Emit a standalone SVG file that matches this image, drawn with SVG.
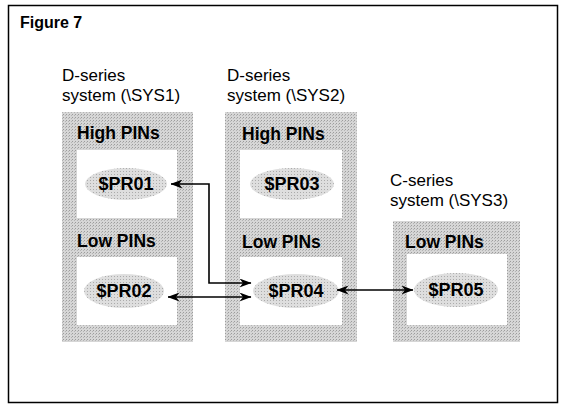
<svg xmlns="http://www.w3.org/2000/svg" width="563" height="404" viewBox="0 0 563 404">
  <defs>
    <pattern id="ht" width="3" height="3" patternUnits="userSpaceOnUse">
      <rect width="3" height="3" fill="#d6d6d6"/>
      <rect width="1" height="1" fill="#9c9c9c"/>
      <rect x="2" y="1" width="1" height="1" fill="#b4b4b4"/>
    </pattern>
    <pattern id="ht2" width="3" height="3" patternUnits="userSpaceOnUse">
      <rect width="3" height="3" fill="#dedede"/>
      <rect width="1" height="1" fill="#ababab"/>
    </pattern>
    <marker id="ah" viewBox="0 0 12 9" refX="11.5" refY="4.5" markerWidth="12" markerHeight="9" markerUnits="userSpaceOnUse" orient="auto-start-reverse">
      <path d="M0,0 L12,4.5 L0,9 L3.5,4.5 z" fill="#000"/>
    </marker>
  </defs>
  <style>
    text { font-family: "Liberation Sans", Arial, sans-serif; fill: #000; }
    .title { font-size: 16px; font-weight: bold; }
    .sys { font-size: 17px; }
    .lab { font-size: 17.5px; font-weight: bold; }
    .pr { font-size: 18px; font-weight: bold; text-anchor: middle; }
    .box { fill: url(#ht); }
    .inner { fill: #fff; }
    .proc { fill: url(#ht2); }
    .conn { fill: none; stroke: #000; stroke-width: 1.6; marker-start: url(#ah); marker-end: url(#ah); }
  </style>
  <rect x="8.5" y="5.5" width="549" height="397" fill="#fff" stroke="#000" stroke-width="1.5"/>
  <text class="title" x="20" y="28">Figure 7</text>

  <g id="sys1">
    <text class="sys" x="62" y="81">D-series</text>
    <text class="sys" x="62" y="100.5">system (\SYS1)</text>
    <rect class="box" x="62" y="112" width="131" height="230"/>
    <rect class="inner" x="77" y="150" width="100" height="68"/>
    <rect class="inner" x="77" y="257" width="100" height="68"/>
    <text class="lab" x="77" y="139">High PINs</text>
    <text class="lab" x="77" y="247">Low PINs</text>
  </g>
  <g id="PR01">
    <ellipse class="proc" cx="126" cy="184" rx="41" ry="16"/>
    <text class="pr" x="126" y="190">$PR01</text>
  </g>
  <g id="PR02">
    <ellipse class="proc" cx="124" cy="291" rx="40" ry="17"/>
    <text class="pr" x="124" y="297">$PR02</text>
  </g>

  <g id="sys2">
    <text class="sys" x="227" y="81">D-series</text>
    <text class="sys" x="227" y="100.5">system (\SYS2)</text>
    <rect class="box" x="225" y="112" width="132" height="230"/>
    <rect class="inner" x="240" y="150" width="102" height="68"/>
    <rect class="inner" x="240" y="257" width="102" height="68"/>
    <text class="lab" x="242" y="140">High PINs</text>
    <text class="lab" x="242" y="248">Low PINs</text>
  </g>
  <g id="PR03">
    <ellipse class="proc" cx="292" cy="184" rx="42" ry="16"/>
    <text class="pr" x="292" y="190">$PR03</text>
  </g>
  <g id="PR04">
    <ellipse class="proc" cx="296" cy="291" rx="43" ry="17"/>
    <text class="pr" x="296" y="297">$PR04</text>
  </g>

  <g id="sys3">
    <text class="sys" x="390" y="186">C-series</text>
    <text class="sys" x="390" y="205.5">system (\SYS3)</text>
    <rect class="box" x="393" y="221" width="127" height="121"/>
    <rect class="inner" x="407" y="254" width="100" height="71"/>
    <text class="lab" x="405" y="248">Low PINs</text>
  </g>
  <g id="PR05">
    <ellipse class="proc" cx="456" cy="290" rx="42" ry="17"/>
    <text class="pr" x="456" y="296">$PR05</text>
  </g>

  <g id="connectors">
    <path class="conn" d="M171,184 H209 V283 H251"/>
    <path class="conn" d="M168,297 H251"/>
    <path class="conn" d="M337,290 H413"/>
  </g>
</svg>
